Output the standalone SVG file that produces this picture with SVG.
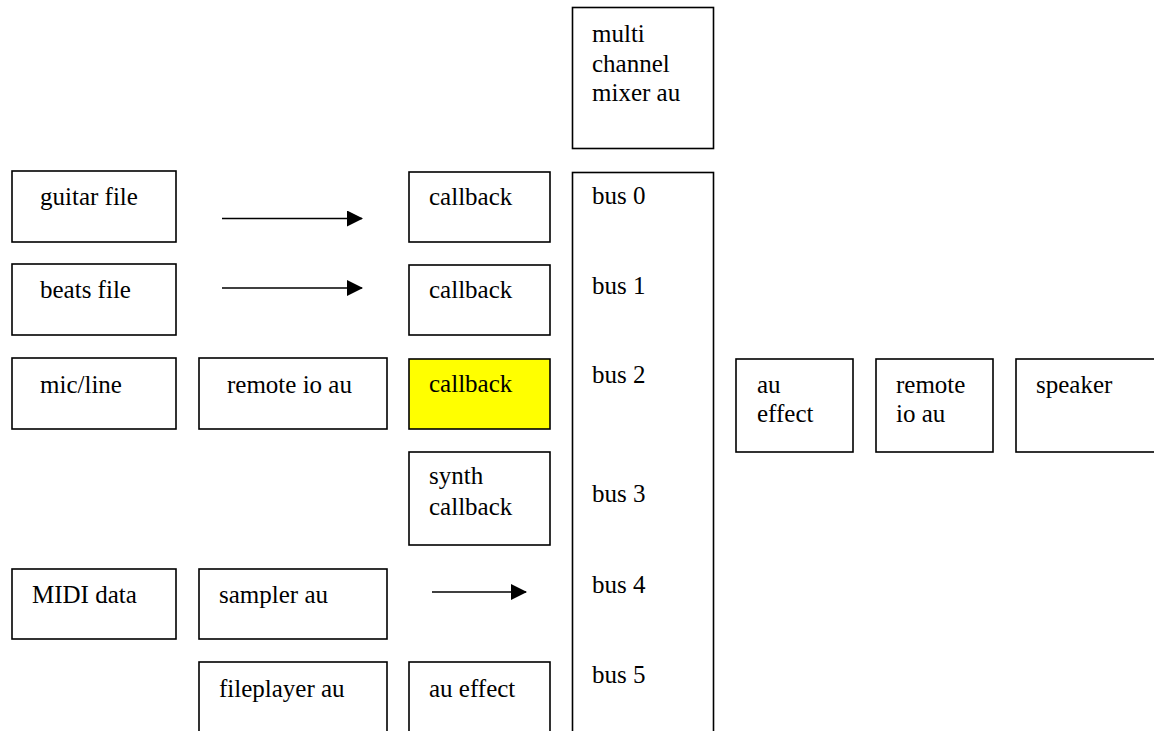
<svg xmlns="http://www.w3.org/2000/svg" width="1154" height="731" viewBox="0 0 1154 731">
  <defs>
    <style>
      .box { fill: #ffffff; stroke: #000000; stroke-width: 1.6; }
      .hl { fill: #ffff00; }
      text { font-family: "Liberation Serif", "Times New Roman", serif; font-size: 25px; fill: #000000; }
      .wire { stroke: #000000; stroke-width: 1.6; fill: none; }
    </style>
    <marker id="arrow" viewBox="0 0 16 16" refX="15" refY="8" markerWidth="16" markerHeight="16" markerUnits="userSpaceOnUse" orient="auto">
      <path d="M0,0 L16,8 L0,16 Z" fill="#000000"/>
    </marker>
  </defs>
  <rect width="1154" height="731" fill="#ffffff"/>

  <!-- mixer unit and its input buses -->
  <g id="mixer">
    <rect class="box" x="572.5" y="7.5" width="141" height="141"/>
    <text x="592" y="42">multi</text>
    <text x="592" y="72">channel</text>
    <text x="592" y="101">mixer au</text>
  </g>
  <g id="buses">
    <rect class="box" x="572.5" y="172.5" width="141" height="580"/>
    <text x="592" y="204">bus 0</text>
    <text x="592" y="294">bus 1</text>
    <text x="592" y="383">bus 2</text>
    <text x="592" y="502">bus 3</text>
    <text x="592" y="593">bus 4</text>
    <text x="592" y="683">bus 5</text>
  </g>

  <!-- sources -->
  <g id="guitar-file">
    <rect class="box" x="12" y="171" width="164" height="71"/>
    <text x="40" y="205">guitar file</text>
  </g>
  <g id="beats-file">
    <rect class="box" x="12" y="264" width="164" height="71"/>
    <text x="40" y="298">beats file</text>
  </g>
  <g id="mic-line">
    <rect class="box" x="12" y="358" width="164" height="71"/>
    <text x="40" y="393">mic/line</text>
  </g>
  <g id="midi-data">
    <rect class="box" x="12" y="569" width="164" height="70"/>
    <text x="32" y="603">MIDI data</text>
  </g>

  <!-- second column units -->
  <g id="remote-io-in">
    <rect class="box" x="199" y="358" width="188" height="71"/>
    <text x="227" y="393">remote io au</text>
  </g>
  <g id="sampler">
    <rect class="box" x="199" y="569" width="188" height="70"/>
    <text x="219" y="603">sampler au</text>
  </g>
  <g id="fileplayer">
    <rect class="box" x="199" y="662" width="188" height="90"/>
    <text x="219" y="697">fileplayer au</text>
  </g>

  <!-- callbacks -->
  <g id="callback-guitar">
    <rect class="box" x="409" y="172" width="141" height="70"/>
    <text x="429" y="205">callback</text>
  </g>
  <g id="callback-beats">
    <rect class="box" x="409" y="265" width="141" height="70"/>
    <text x="429" y="298">callback</text>
  </g>
  <g id="callback-mic">
    <rect class="box hl" x="409" y="359" width="141" height="70"/>
    <text x="429" y="392">callback</text>
  </g>
  <g id="synth-callback">
    <rect class="box" x="409" y="452" width="141" height="93"/>
    <text x="429" y="484">synth</text>
    <text x="429" y="515">callback</text>
  </g>
  <g id="au-effect-in">
    <rect class="box" x="409" y="662" width="141" height="90"/>
    <text x="429" y="697">au effect</text>
  </g>

  <!-- output chain -->
  <g id="au-effect-out">
    <rect class="box" x="736" y="359" width="117" height="93"/>
    <text x="757" y="393">au</text>
    <text x="757" y="422">effect</text>
  </g>
  <g id="remote-io-out">
    <rect class="box" x="876" y="359" width="117" height="93"/>
    <text x="896" y="393">remote</text>
    <text x="896" y="422">io au</text>
  </g>
  <g id="speaker">
    <rect class="box" x="1016" y="359" width="160" height="93"/>
    <text x="1036" y="393">speaker</text>
  </g>

  <!-- connectors -->
  <g id="connectors">
    <line class="wire" x1="222" y1="218.5" x2="362" y2="218.5" marker-end="url(#arrow)"/>
    <line class="wire" x1="222" y1="288" x2="362" y2="288" marker-end="url(#arrow)"/>
    <line class="wire" x1="432" y1="592" x2="526" y2="592" marker-end="url(#arrow)"/>
  </g>
</svg>
